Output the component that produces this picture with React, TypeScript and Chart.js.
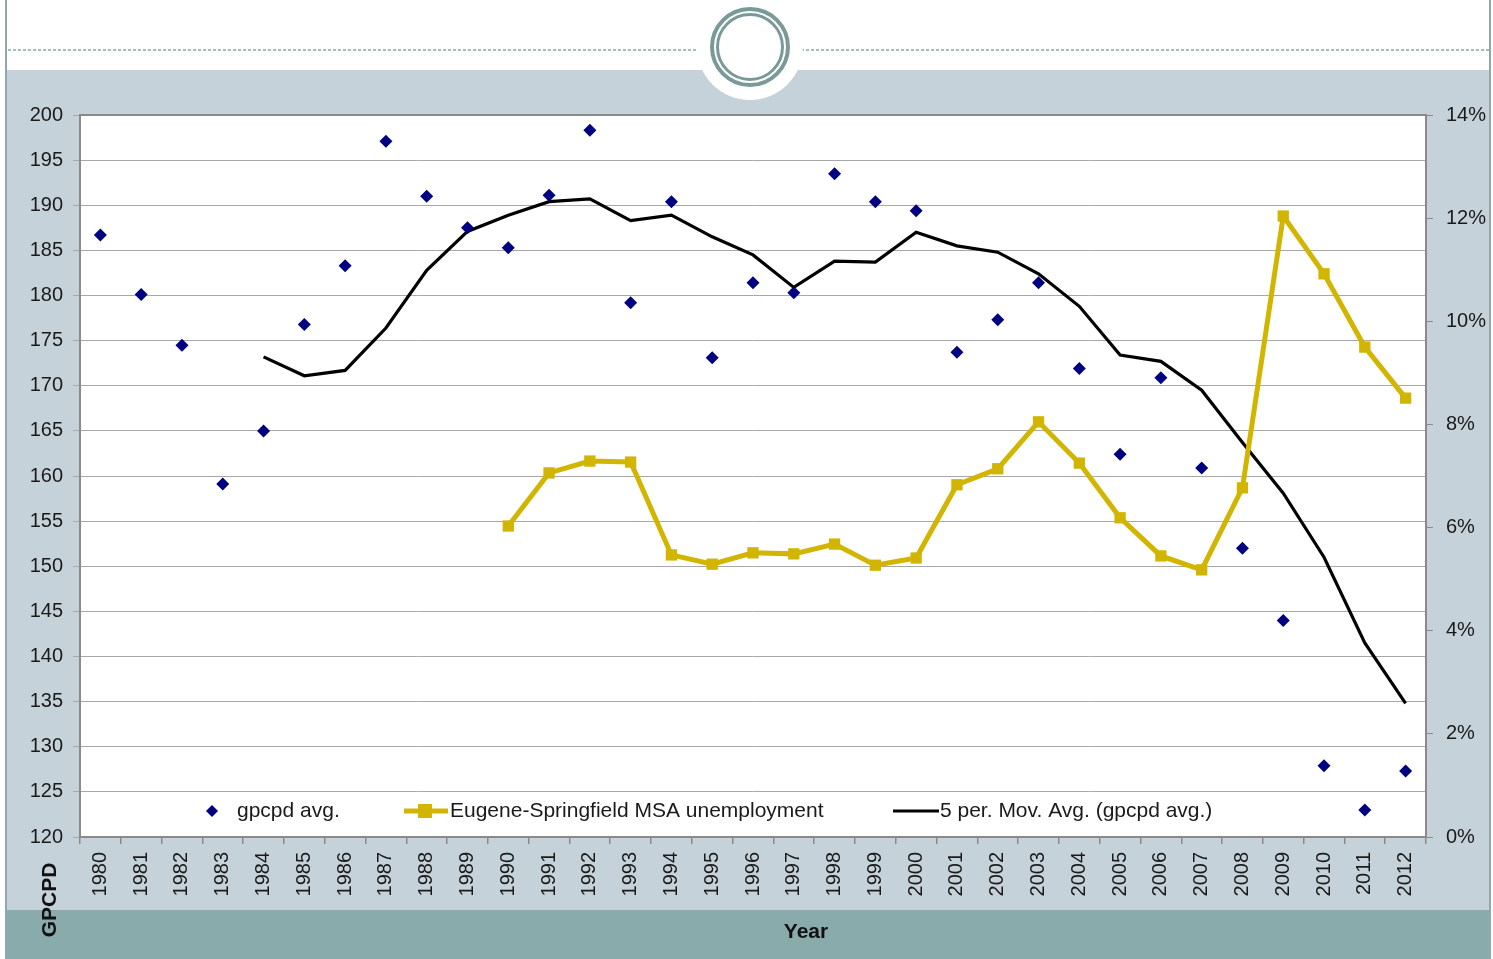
import React, { useEffect, useRef } from "react";
import { Chart, registerables } from "chart.js";

Chart.register(...registerables);

const years = [
  "1980","1981","1982","1983","1984","1985","1986","1987","1988","1989",
  "1990","1991","1992","1993","1994","1995","1996","1997","1998","1999",
  "2000","2001","2002","2003","2004","2005","2006","2007","2008","2009",
  "2010","2011","2012",
];

const gpcpdAvg = [
  186.7, 180.1, 174.5, 159.1, 165.0, 176.8, 183.3, 197.1, 191.0, 187.5,
  185.3, 191.1, 198.3, 179.2, 190.4, 173.1, 181.4, 180.3, 193.5, 190.4,
  189.4, 173.7, 177.3, 181.4, 171.9, 162.4, 170.9, 160.9, 152.0, 144.0,
  127.9, 123.0, 127.3,
];

const unemployment = [
  null, null, null, null, null, null, null, null, null, null,
  6.03, 7.06, 7.29, 7.27, 5.47, 5.29, 5.51, 5.49, 5.68, 5.27,
  5.41, 6.83, 7.14, 8.05, 7.25, 6.19, 5.45, 5.18, 6.77, 12.04,
  10.92, 9.50, 8.51,
];

const movingAvg = [
  null, null, null, null, 173.2, 171.1, 171.7, 176.4, 182.8, 187.1,
  188.9, 190.4, 190.7, 188.3, 188.9, 186.5, 184.5, 180.9, 183.8, 183.7,
  187.0, 185.5, 184.8, 182.4, 178.8, 173.4, 172.7, 169.5, 163.7, 158.1,
  151.0, 141.5, 134.8,
];

const leftTicks = { min: 120, max: 200, step: 5 };
const rightTicks = { min: 0, max: 14, step: 2 };

const seriesLabels = [
  "gpcpd avg.",
  "Eugene-Springfield MSA unemployment",
  "5 per. Mov. Avg. (gpcpd avg.)",
];

const W = 1493;
const H = 959;
const NAVY = "#000080";
const GOLD = "#d1b500";
const FONT = "'Liberation Sans', Arial, sans-serif";

const backgroundPlugin = {
  id: "slideBg",
  beforeDraw(chart: any) {
    const ctx = chart.ctx;
    ctx.save();
    ctx.fillStyle = "#ffffff";
    ctx.fillRect(0, 0, W, H);
    ctx.fillStyle = "#c6d2d9";
    ctx.fillRect(7, 70, 1483, 840);
    ctx.fillStyle = "#8aabab";
    ctx.fillRect(7, 910, 1483, 49);
    ctx.strokeStyle = "#8fa9a9";
    ctx.lineWidth = 2;
    ctx.beginPath();
    ctx.moveTo(6, 0);
    ctx.lineTo(6, H);
    ctx.moveTo(1490, 0);
    ctx.lineTo(1490, H);
    ctx.stroke();
    ctx.strokeStyle = "#86a6a6";
    ctx.lineWidth = 1.5;
    ctx.setLineDash([3, 2]);
    ctx.beginPath();
    ctx.moveTo(8, 50);
    ctx.lineTo(697, 50);
    ctx.moveTo(801, 50);
    ctx.lineTo(1489, 50);
    ctx.stroke();
    ctx.setLineDash([]);
    ctx.fillStyle = "#ffffff";
    ctx.beginPath();
    ctx.arc(750, 47, 53, 0, Math.PI * 2);
    ctx.fill();
    ctx.strokeStyle = "#7a9a9a";
    ctx.lineWidth = 4;
    ctx.beginPath();
    ctx.arc(750, 47, 38, 0, Math.PI * 2);
    ctx.stroke();
    ctx.lineWidth = 3;
    ctx.beginPath();
    ctx.arc(750, 47, 32.5, 0, Math.PI * 2);
    ctx.stroke();
    const a = chart.chartArea;
    ctx.fillStyle = "#ffffff";
    ctx.fillRect(a.left, a.top, a.right - a.left, a.bottom - a.top);
    ctx.restore();
  },
  afterDraw(chart: any) {
    const ctx = chart.ctx;
    const a = chart.chartArea;
    ctx.save();
    ctx.strokeStyle = "#8a8a8a";
    ctx.lineWidth = 2;
    ctx.strokeRect(a.left, a.top, a.right - a.left, a.bottom - a.top);

    const ly = 811;
    ctx.font = `21px ${FONT}`;
    ctx.textBaseline = "middle";
    ctx.textAlign = "left";
    ctx.fillStyle = NAVY;
    ctx.beginPath();
    ctx.moveTo(212, ly - 6);
    ctx.lineTo(218, ly);
    ctx.lineTo(212, ly + 6);
    ctx.lineTo(206, ly);
    ctx.closePath();
    ctx.fill();
    ctx.fillStyle = "#1a1a1a";
    ctx.fillText(seriesLabels[0], 237, ly);
    ctx.strokeStyle = GOLD;
    ctx.lineWidth = 5;
    ctx.beginPath();
    ctx.moveTo(404, ly);
    ctx.lineTo(448, ly);
    ctx.stroke();
    ctx.fillStyle = GOLD;
    ctx.fillRect(418, ly - 7, 14, 14);
    ctx.fillStyle = "#1a1a1a";
    ctx.fillText(seriesLabels[1], 450, ly);
    ctx.strokeStyle = "#000000";
    ctx.lineWidth = 3;
    ctx.beginPath();
    ctx.moveTo(893, ly);
    ctx.lineTo(939, ly);
    ctx.stroke();
    ctx.fillText(seriesLabels[2], 940, ly);

    ctx.font = `bold 21px ${FONT}`;
    ctx.fillStyle = "#111111";
    ctx.textAlign = "center";
    ctx.fillText("Year", 806, 932);
    ctx.translate(50, 900);
    ctx.rotate(-Math.PI / 2);
    ctx.fillText("GPCPD", 0, 0);
    ctx.restore();
  },
};

export default function App() {
  const ref = useRef<HTMLCanvasElement | null>(null);

  useEffect(() => {
    document.body.style.margin = "0";
    const canvas = ref.current;
    if (!canvas) return;
    Chart.defaults.font.family = FONT;
    const chart = new Chart(canvas, {
      type: "line",
      data: {
        labels: years,
        datasets: [
          {
            label: seriesLabels[0],
            data: gpcpdAvg,
            yAxisID: "y",
            showLine: false,
            pointStyle: "rectRot",
            pointRadius: 6.5,
            pointBackgroundColor: NAVY,
            pointBorderColor: NAVY,
            pointBorderWidth: 0,
            borderColor: NAVY,
            backgroundColor: NAVY,
          },
          {
            label: seriesLabels[1],
            data: unemployment,
            yAxisID: "y1",
            borderColor: GOLD,
            backgroundColor: GOLD,
            borderWidth: 5,
            pointStyle: "rect",
            pointRadius: 8,
            pointBackgroundColor: GOLD,
            pointBorderColor: GOLD,
            pointBorderWidth: 0,
            spanGaps: false,
            tension: 0,
          },
          {
            label: seriesLabels[2],
            data: movingAvg,
            yAxisID: "y",
            borderColor: "#000000",
            borderWidth: 3.2,
            pointRadius: 0,
            tension: 0,
          },
        ],
      },
      options: {
        responsive: false,
        animation: false,
        events: [],
        layout: { padding: { top: 115, left: 0, right: 0, bottom: 0 } },
        plugins: {
          legend: { display: false },
          tooltip: { enabled: false },
          title: { display: false },
        },
        scales: {
          x: {
            type: "category",
            offset: true,
            grid: {
              offset: true,
              drawOnChartArea: false,
              drawTicks: true,
              tickLength: 7,
              color: "#8a8a8a",
              lineWidth: 1.5,
            },
            border: { display: true, color: "#8a8a8a", width: 2 },
            ticks: {
              autoSkip: false,
              minRotation: 90,
              maxRotation: 90,
              padding: 8,
              color: "#1a1a1a",
              font: { size: 20, family: FONT },
            },
            afterFit: (s: any) => {
              s.height = 122;
            },
          },
          y: {
            position: "left",
            min: leftTicks.min,
            max: leftTicks.max,
            ticks: {
              stepSize: leftTicks.step,
              padding: 10,
              color: "#1a1a1a",
              font: { size: 20, family: FONT },
            },
            grid: {
              color: "#a8a8a8",
              lineWidth: 1,
              tickLength: 7,
            },
            border: { display: true, color: "#8a8a8a", width: 2 },
            afterFit: (s: any) => {
              s.width = 80;
            },
          },
          y1: {
            position: "right",
            min: rightTicks.min,
            max: rightTicks.max,
            ticks: {
              stepSize: rightTicks.step,
              padding: 13,
              color: "#1a1a1a",
              font: { size: 20, family: FONT },
              callback: (v: any) => `${v}%`,
            },
            grid: {
              drawOnChartArea: false,
              color: "#8a8a8a",
              tickLength: 7,
            },
            border: { display: true, color: "#8a8a8a", width: 2 },
            afterFit: (s: any) => {
              s.width = 67;
            },
          },
        },
      },
      plugins: [backgroundPlugin],
    } as any);
    return () => chart.destroy();
  }, []);

  return (
    <div style={{ position: "fixed", left: 0, top: 0, width: W, height: H }}>
      <canvas ref={ref} width={W} height={H} style={{ width: W, height: H, display: "block" }} />
    </div>
  );
}
